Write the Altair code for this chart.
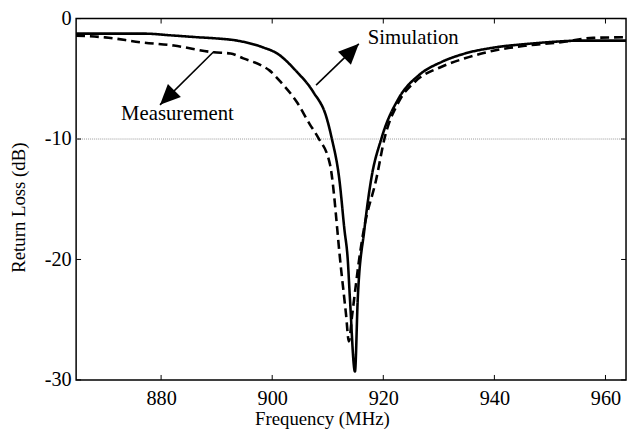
import altair as alt
import pandas as pd

# ---- data ----
sim_freq = [864.7, 870, 877, 882, 886.6, 890, 893.7, 898.4, 900.9, 904.4, 907.4, 909.8,
            910.7, 912.1, 913.0, 913.6, 914.0, 914.9, 915.4, 916.6, 917.8,
            919.7, 922.8, 926.4, 930.5, 934.7, 940, 946, 950, 955.5, 963.7]
sim_db = [-1.25, -1.25, -1.25, -1.4, -1.55, -1.65, -1.83, -2.4, -2.9, -4.4, -6.1, -8.25,
          -9.9, -13.4, -17.5, -20.0, -23.3, -29.3, -23.3, -17.5, -13.4,
          -9.9, -6.6, -4.7, -3.6, -2.9, -2.4, -2.1, -1.95, -1.83, -1.83]

meas_freq = [864.7, 869.9, 876.4, 882.3, 889.5, 892.5, 894.8, 898.5, 899.5, 901.4, 904.4,
             906.8, 908.3, 910.4, 912.4, 913.3, 913.8, 914.4, 915.9, 916.5, 918.7,
             920.3, 922.8, 925.8, 930.5, 934.7, 940, 945.9, 952, 957.8, 963.7]
meas_db = [-1.42, -1.56, -1.97, -2.24, -2.8, -2.9, -3.3, -4.0, -4.3, -5.2, -6.9,
           -8.8, -9.9, -12.1, -20.8, -24.6, -26.8, -24.6, -19.2, -17.5, -13.4,
           -9.8, -6.9, -5.2, -4.0, -3.3, -2.65, -2.24, -1.97, -1.6, -1.55]

x_ticks = [880, 900, 920, 940, 960]
y_ticks = [0, -10, -20, -30]
x_domain = [864.7, 963.7]
y_domain = [-30, 0]
ref_level = -10

labels = ["Simulation", "Measurement"]
label_freq = [917.2, 872.8]
label_db = [-1.64, -7.95]
# arrows: start (freq, dB) -> tip (freq, dB), head angle
arrow_f0 = [907.9, 889.5]
arrow_d0 = [-5.52, -2.73]
arrow_f1 = [915.6, 879.8]
arrow_d1 = [-2.1, -7.16]
arrow_angle = [45, 225]

W, H = 557, 366
FONT = "Liberation Serif"

df = pd.DataFrame(
    {"freq": sim_freq + meas_freq,
     "db": sim_db + meas_db,
     "series": ["Simulation"] * len(sim_freq) + ["Measurement"] * len(meas_freq)}
)

xs = alt.Scale(domain=x_domain, nice=False, zero=False)
ys = alt.Scale(domain=y_domain, nice=False, zero=False)

x_axis = alt.Axis(values=x_ticks, ticks=False, domain=False, grid=False,
                  labelFont=FONT, labelFontSize=20.5, labelColor="black", labelPadding=9,
                  title="Frequency (MHz)", titleFont=FONT, titleFontSize=19,
                  titleFontWeight="normal", titleColor="black",
                  titleX=249, titleY=39.5, titleAlign="center", titleBaseline="middle")
y_axis = alt.Axis(values=y_ticks, ticks=False, domain=False, grid=False,
                  labelExpr="toString(datum.value)",
                  labelFont=FONT, labelFontSize=20.5, labelColor="black", labelPadding=5,
                  title="Return Loss (dB)", titleFont=FONT, titleFontSize=19,
                  titleFontWeight="normal", titleColor="black",
                  titleX=-58, titleY=191, titleAlign="center", titleBaseline="middle",
                  titleAngle=270)

lines = alt.Chart(df).mark_line(strokeWidth=2.6, color="black", interpolate="monotone").encode(
    x=alt.X("freq:Q", scale=xs, axis=x_axis),
    y=alt.Y("db:Q", scale=ys, axis=y_axis),
    strokeDash=alt.StrokeDash("series:N", scale=alt.Scale(domain=["Simulation", "Measurement"],
                                                          range=[[1, 0], [9, 5]]), legend=None),
    detail="series:N",
)

ref = alt.Chart(pd.DataFrame({"y": [ref_level]})).mark_rule(
    color="#999999", strokeWidth=1, strokeDash=[1, 1]
).encode(y=alt.Y("y:Q", scale=ys))

xt = pd.DataFrame({"t": x_ticks})
yt = pd.DataFrame({"t": y_ticks})
tick_x_bot = alt.Chart(xt).mark_rule(color="black", strokeWidth=1).encode(
    x=alt.X("t:Q", scale=xs), y=alt.value(H), y2=alt.value(H - 5))
tick_x_top = alt.Chart(xt).mark_rule(color="black", strokeWidth=1).encode(
    x=alt.X("t:Q", scale=xs), y=alt.value(0), y2=alt.value(5))
tick_y_left = alt.Chart(yt).mark_rule(color="black", strokeWidth=1).encode(
    y=alt.Y("t:Q", scale=ys), x=alt.value(0), x2=alt.value(5))
tick_y_right = alt.Chart(yt).mark_rule(color="black", strokeWidth=1).encode(
    y=alt.Y("t:Q", scale=ys), x=alt.value(W), x2=alt.value(W - 5))

lab_df = pd.DataFrame({"label": labels, "f": label_freq, "d": label_db})
texts = alt.Chart(lab_df).mark_text(
    font=FONT, fontSize=21, align="left", baseline="middle", color="black"
).encode(x=alt.X("f:Q", scale=xs), y=alt.Y("d:Q", scale=ys), text="label:N")

arr_df = pd.DataFrame({"f0": arrow_f0, "d0": arrow_d0, "f1": arrow_f1, "d1": arrow_d1,
                       "ang": arrow_angle})
shafts = alt.Chart(arr_df).mark_rule(color="black", strokeWidth=1.6).encode(
    x=alt.X("f0:Q", scale=xs), y=alt.Y("d0:Q", scale=ys),
    x2="f1:Q", y2="d1:Q")
heads = alt.Chart(arr_df).mark_point(
    shape="M0,0L-0.45,1L0.45,1Z", size=1700, filled=True, color="black", opacity=1
).encode(x=alt.X("f1:Q", scale=xs), y=alt.Y("d1:Q", scale=ys),
         angle=alt.Angle("ang:Q", scale=None))

chart = alt.layer(
    ref, lines, tick_x_bot, tick_x_top, tick_y_left, tick_y_right, shafts, heads, texts
).properties(
    width=W, height=H,
    autosize=alt.AutoSizeParams(type="none"),
    padding={"left": 69, "top": 8, "right": 2, "bottom": 47},
    background="white",
).configure_view(stroke="black", strokeWidth=1.5)

chart.save("out.html", embed_options={"renderer": "svg", "actions": False})
